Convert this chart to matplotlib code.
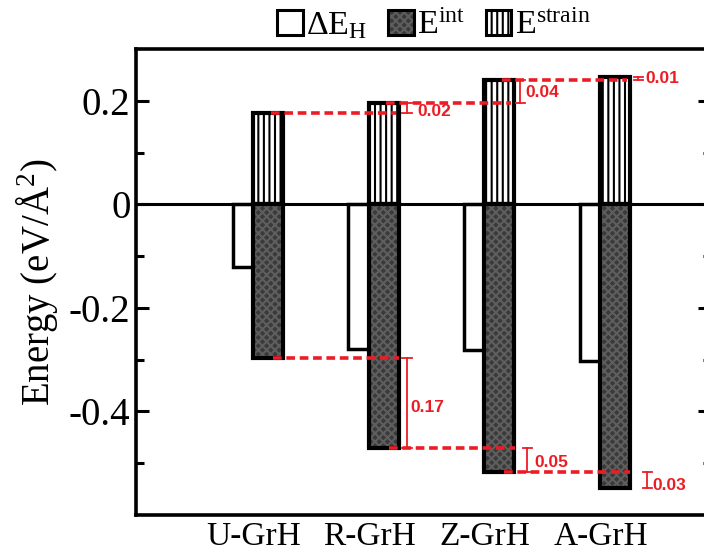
import numpy as np
import matplotlib
matplotlib.use('Agg')
import matplotlib.pyplot as plt
from matplotlib.patches import Patch

plt.rcParams['font.family'] = 'serif'
plt.rcParams['font.serif'] = ['Liberation Serif', 'DejaVu Serif']
plt.rcParams['mathtext.fontset'] = 'custom'
plt.rcParams['mathtext.rm'] = 'Liberation Serif'
plt.rcParams['mathtext.it'] = 'Liberation Serif:italic'
plt.rcParams['mathtext.bf'] = 'Liberation Serif:bold'
plt.rcParams['hatch.linewidth'] = 1.5

# energies in eV/A^2
categories = ['U-GrH', 'R-GrH', 'Z-GrH', 'A-GrH']
dE_H = [-0.122, -0.280, -0.282, -0.303]
E_int = [-0.296, -0.470, -0.517, -0.547]
E_strain = [0.177, 0.196, 0.240, 0.246]

RED = '#ec1c24'
DARK = '#3a3a3a'
TEX = '#5e5e5e'

x = np.arange(1, len(categories) + 1)
w = 0.26
off = 0.087

fig = plt.figure(figsize=(7.04, 5.54), dpi=100)
ax = fig.add_axes([0.1932, 0.0704, 0.817, 0.8412])

# open bars sit behind the interaction bars
ax.bar(x - off, dE_H, w, facecolor='white', edgecolor='black', linewidth=2.5, zorder=2)
ax.bar(x + off, E_int, w, facecolor=DARK, edgecolor='none', linewidth=0, zorder=3)
ax.bar(x + off, E_int, w, fill=False, edgecolor=TEX, hatch='xxxx', linewidth=0, zorder=3.1)
ax.bar(x + off, E_int, w, fill=False, edgecolor='black', linewidth=3, zorder=3.2)
ax.bar(x + off, E_strain, w, facecolor='white', edgecolor='black', hatch='|||',
       linewidth=3, zorder=3)

ax.axhline(0, color='black', linewidth=2.2, zorder=4)

# differences between neighbouring systems
def bracket(xp, y0, y1, label, tx, ty):
    ax.plot([xp, xp], [y0, y1], color=RED, lw=1.3, zorder=6)
    for yy in (y0, y1):
        ax.plot([xp - 0.04, xp + 0.04], [yy, yy], color=RED, lw=1.3, zorder=6)
    ax.text(tx, ty, label, color=RED, fontsize=12.5, fontweight='bold',
            family='Liberation Sans', ha='left', va='center', zorder=6)

dash = dict(color=RED, lw=2.6, linestyle=(0, (2.4, 1.3)), zorder=5)
for i in range(len(categories) - 1):
    xi = x[i]
    ax.plot([xi + 0.11, xi + 1.19], [E_strain[i], E_strain[i]], **dash)
    ax.plot([xi + 0.13, xi + 1.22], [E_int[i], E_int[i]], **dash)

s_diff = np.diff(E_strain)
i_diff = -np.diff(E_int)
bracket(2.29, E_strain[0], E_strain[1], f'{s_diff[0]:.2f}', 2.38, E_strain[0] + 0.002)
bracket(3.27, E_strain[1], E_strain[2], f'{s_diff[1]:.2f}', 3.31, 0.216)
bracket(4.29, E_strain[2], E_strain[3], f'{s_diff[2]:.2f}', 4.35, 0.243)
bracket(2.29, E_int[0], E_int[1], f'{i_diff[0]:.2f}', 2.32, -0.392)
bracket(3.33, E_int[1], E_int[2], f'{i_diff[1]:.2f}', 3.39, -0.498)
bracket(4.37, E_int[2], E_int[3], f'{i_diff[2]:.2f}', 4.41, -0.543)

ax.set_xlim(-0.056, 4.922)
ax.set_ylim(-0.6, 0.3)
# category labels sit a touch left of each bar pair
ax.set_xticks(x - 0.035)
ax.set_xticklabels(categories, fontsize=24)
ax.set_yticks([-0.4, -0.2, 0, 0.2])
ax.set_yticklabels(['-0.4', '-0.2', '0', '0.2'], fontsize=28)
ax.set_yticks([-0.5, -0.3, -0.1, 0.1], minor=True)
ax.tick_params(axis='x', length=0, pad=5)
ax.tick_params(axis='y', which='major', direction='in', length=9.5, width=2.2,
               right=True, pad=4)
ax.tick_params(axis='y', which='minor', direction='in', length=5.5, width=2.2, right=True)
for sp in ax.spines.values():
    sp.set_linewidth(2.6)
ax.set_ylabel('Energy (eV/Å$^2$)', fontsize=28, labelpad=6)

h_open = Patch(facecolor='white', edgecolor='black', linewidth=2.2)
h_int = (Patch(facecolor=DARK, edgecolor='none'),
         Patch(fill=False, edgecolor=TEX, hatch='xxxx', linewidth=0),
         Patch(fill=False, edgecolor='black', linewidth=2.2))
h_str = Patch(facecolor='white', edgecolor='black', hatch='|||', linewidth=2.2)
fig.legend([h_open, h_int, h_str],
           [r'$\Delta\mathrm{E}_\mathrm{H}$', r'$\mathrm{E}^\mathrm{int}$',
            r'$\mathrm{E}^\mathrm{strain}$'],
           loc='center', bbox_to_anchor=(0.616, 0.954), ncol=3, frameon=False,
           fontsize=24.5, handlelength=0.76, handleheight=0.76, handletextpad=0.1,
           columnspacing=0.6, borderpad=0)

fig.savefig('out.png', dpi=100)
